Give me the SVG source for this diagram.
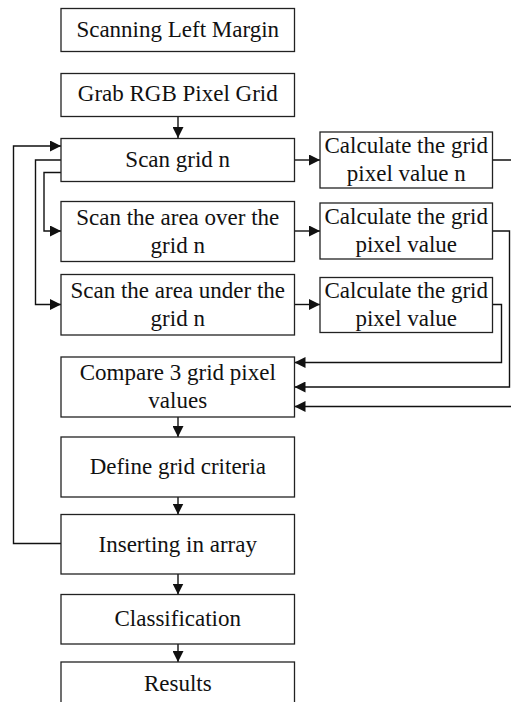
<svg xmlns="http://www.w3.org/2000/svg" width="511" height="702" viewBox="0 0 511 702">
<style>
.box{fill:#fff;stroke:#222;stroke-width:1.3}
.t{font-family:"Liberation Serif","Times New Roman",serif;font-size:23px;fill:#111;text-anchor:middle}
.c{fill:none;stroke:#111;stroke-width:1.4}
</style>
<defs>
<marker id="ah" viewBox="0 0 10 10" refX="10" refY="5" markerWidth="11" markerHeight="11" markerUnits="userSpaceOnUse" orient="auto">
<path d="M0,0 L10,5 L0,10 z" fill="#111"/>
</marker>
</defs>
<rect width="511" height="702" fill="#fff"/>
<g id="connectors">
<path class="c" d="M178,117 V138" marker-end="url(#ah)"/>
<path class="c" d="M61,543.5 H13.5 V146 H61" marker-end="url(#ah)"/>
<path class="c" d="M61,160 H35.5 V304.5 H61" marker-end="url(#ah)"/>
<path class="c" d="M61,172.5 H44 V231 H61" marker-end="url(#ah)"/>
<path class="c" d="M294.5,160 H320" marker-end="url(#ah)"/>
<path class="c" d="M294.5,231 H320" marker-end="url(#ah)"/>
<path class="c" d="M294.5,304.5 H320" marker-end="url(#ah)"/>
<path class="c" d="M492.5,160 H516 V406.5 H294.5" marker-end="url(#ah)"/>
<path class="c" d="M492.5,231 H509.5 V387 H294.5" marker-end="url(#ah)"/>
<path class="c" d="M492.5,304.5 H501.5 V362.5 H294.5" marker-end="url(#ah)"/>
<path class="c" d="M178,417 V437" marker-end="url(#ah)"/>
<path class="c" d="M178,497 V514.5" marker-end="url(#ah)"/>
<path class="c" d="M178,574 V594.5" marker-end="url(#ah)"/>
<path class="c" d="M178,644 V662" marker-end="url(#ah)"/>
</g>
<g id="scanning-left-margin"><rect class="box" x="61" y="8.5" width="233.5" height="43"/><text class="t" x="177.75" y="37">Scanning Left Margin</text></g>
<g id="grab-rgb"><rect class="box" x="61" y="73.5" width="233.5" height="43"/><text class="t" x="177.75" y="101">Grab RGB Pixel Grid</text></g>
<g id="scan-grid"><rect class="box" x="61" y="138.5" width="233.5" height="43"/><text class="t" x="177.75" y="167">Scan grid n</text></g>
<g id="scan-over"><rect class="box" x="61" y="201.5" width="233.5" height="60"/><text class="t" x="177.75" y="224.5">Scan the area over the</text><text class="t" x="177.75" y="252.5">grid n</text></g>
<g id="scan-under"><rect class="box" x="61" y="274.5" width="233.5" height="60.5"/><text class="t" x="177.75" y="298">Scan the area under the</text><text class="t" x="177.75" y="326">grid n</text></g>
<g id="calc-1"><rect class="box" x="320" y="132" width="172.5" height="56"/><text class="t" x="406.25" y="153">Calculate the grid</text><text class="t" x="406.25" y="181">pixel value n</text></g>
<g id="calc-2"><rect class="box" x="320" y="203" width="172.5" height="56"/><text class="t" x="406.25" y="224">Calculate the grid</text><text class="t" x="406.25" y="252">pixel value</text></g>
<g id="calc-3"><rect class="box" x="320" y="277.5" width="172.5" height="55"/><text class="t" x="406.25" y="298">Calculate the grid</text><text class="t" x="406.25" y="326">pixel value</text></g>
<g id="compare"><rect class="box" x="61" y="357" width="233.5" height="60"/><text class="t" x="177.75" y="380">Compare 3 grid pixel</text><text class="t" x="177.75" y="408">values</text></g>
<g id="define"><rect class="box" x="61" y="437" width="233.5" height="60"/><text class="t" x="177.75" y="474">Define grid criteria</text></g>
<g id="inserting"><rect class="box" x="61" y="514.5" width="233.5" height="59.5"/><text class="t" x="177.75" y="551.5">Inserting in array</text></g>
<g id="classification"><rect class="box" x="61" y="594.5" width="233.5" height="49.5"/><text class="t" x="177.75" y="626">Classification</text></g>
<g id="results"><rect class="box" x="61" y="662" width="233.5" height="60"/><text class="t" x="177.75" y="691">Results</text></g>
</svg>
